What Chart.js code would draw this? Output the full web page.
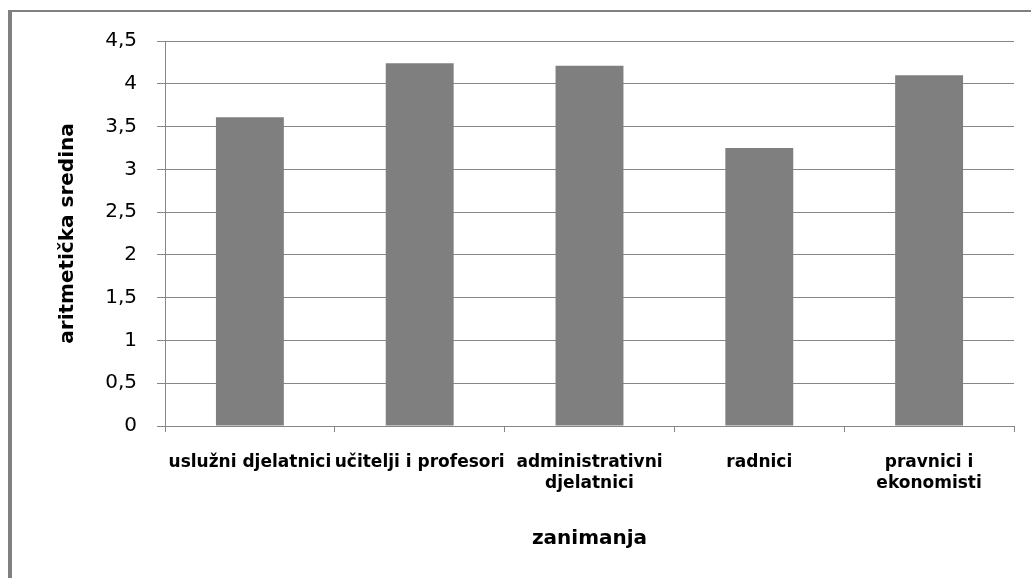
<!DOCTYPE html>
<html>
<head>
<meta charset="utf-8">
<script src="https://cdn.jsdelivr.net/npm/chart.js@4/dist/chart.umd.min.js"></script>
<style>
  html, body { margin: 0; padding: 0; background: #fff; }
  #wrap { position: relative; width: 1031px; height: 578px; overflow: hidden; }
  #frame {
    position: absolute; left: 8px; top: 10px; width: 1100px; height: 600px;
    border-left: 4px solid #808080; border-top: 2px solid #808080;
  }
  canvas { position: absolute; left: 0; top: 0; }
</style>
</head>
<body>
<div id="wrap">
  <div id="frame"></div>
  <canvas id="chart" width="1031" height="578"></canvas>
</div>
<script>
// kategorije (zanimanja), višeredni natpisi kao u izvorniku
const categories = [
  'uslužni djelatnici',
  'učitelji i profesori',
  ['administrativni', 'djelatnici'],
  'radnici',
  ['pravnici i', 'ekonomisti']
];
const means = [3.61, 4.24, 4.21, 3.25, 4.10];
const yTicks = [0, 0.5, 1, 1.5, 2, 2.5, 3, 3.5, 4, 4.5];

const lineGray = '#868686';
const font = 'DejaVu Sans';

const ctx = document.getElementById('chart').getContext('2d');

new Chart(ctx, {
  type: 'bar',
  data: {
    labels: categories,
    datasets: [{
      data: means,
      backgroundColor: '#7f7f7f',
      borderWidth: 0,
      categoryPercentage: 1,
      barPercentage: 0.4
    }]
  },
  options: {
    responsive: false,
    animation: false,
    layout: { padding: { left: 0, top: 41, right: 17, bottom: 0 } },
    plugins: {
      legend: { display: false },
      tooltip: { enabled: false }
    },
    scales: {
      x: {
        offset: true,
        grid: {
          offset: true,
          drawOnChartArea: false,
          drawTicks: true,
          tickLength: 6,
          color: lineGray,
          lineWidth: 1
        },
        border: { color: lineGray, width: 1 },
        ticks: {
          autoSkip: false,
          maxRotation: 0,
          minRotation: 0,
          padding: 21,
          color: '#000',
          font: { family: font, size: 17, weight: 'bold', lineHeight: 1.18 }
        },
        title: {
          display: true,
          text: 'zanimanja',
          color: '#000',
          font: { family: font, size: 20, weight: 'bold', lineHeight: 1.2 },
          padding: { top: 0, bottom: 27 }
        },
        afterFit(scale) { scale.height = 152; }
      },
      y: {
        min: 0,
        max: 4.5,
        afterBuildTicks(scale) {
          scale.ticks = yTicks.map(v => ({ value: v }));
        },
        grid: {
          color: lineGray,
          lineWidth: 1,
          tickLength: 8
        },
        border: { color: lineGray, width: 1 },
        ticks: {
          padding: 20,
          color: '#000',
          font: { family: font, size: 20 },
          callback: v => String(v).replace('.', ',')
        },
        title: {
          display: true,
          text: 'aritmetička sredina',
          color: '#000',
          font: { family: font, size: 20, weight: 'bold', lineHeight: 1.2 },
          padding: { top: 56, bottom: 0 }
        },
        afterFit(scale) { scale.width = 165; }
      }
    }
  }
});
</script>
</body>
</html>
